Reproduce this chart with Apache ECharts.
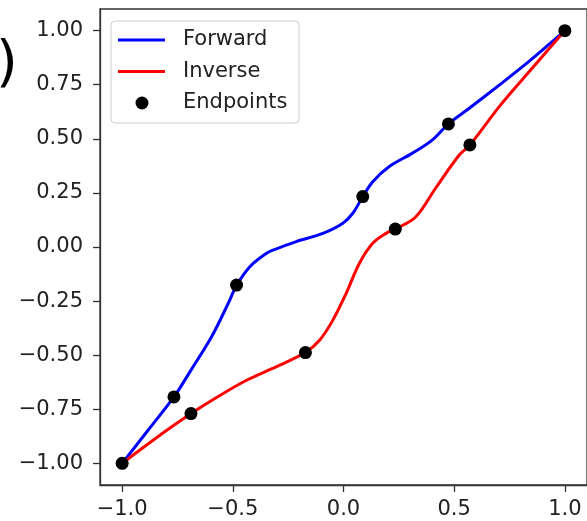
<!DOCTYPE html>
<html>
<head>
<meta charset="utf-8">
<script src="https://cdn.jsdelivr.net/npm/echarts@6/dist/echarts.min.js"></script>
<style>
html,body{margin:0;padding:0;background:#fff;}
#chart{width:587px;height:521px;}
</style>
</head>
<body>
<div id="chart"></div>
<script>
// Forward curve (blue)
const forwardX = [-1.0, -0.883, -0.766, -0.689, -0.596, -0.521, -0.482, -0.423, -0.348, -0.318, -0.213, -0.093, -0.003, 0.042, 0.087, 0.132, 0.207, 0.312, 0.402, 0.474, 0.568, 0.718, 0.838, 0.928, 1.0];
const forwardY = [-1.0, -0.847, -0.693, -0.569, -0.415, -0.261, -0.176, -0.091, -0.029, -0.014, 0.025, 0.063, 0.110, 0.156, 0.233, 0.302, 0.372, 0.434, 0.495, 0.569, 0.641, 0.760, 0.858, 0.936, 1.0];
// Inverse curve (red)
const inverseX = [-1.0, -0.851, -0.689, -0.581, -0.438, -0.288, -0.173, -0.108, -0.048, 0.012, 0.072, 0.132, 0.192, 0.234, 0.327, 0.418, 0.523, 0.571, 0.710, 0.860, 1.0];
const inverseY = [-1.0, -0.886, -0.770, -0.700, -0.616, -0.546, -0.488, -0.431, -0.338, -0.214, -0.075, 0.017, 0.063, 0.083, 0.140, 0.275, 0.425, 0.472, 0.657, 0.835, 1.0];
// Endpoints (black dots)
const endX = [-1.0, -0.766, -0.689, -0.483, -0.172, 0.087, 0.234, 0.474, 0.571, 1.0];
const endY = [-1.0, -0.693, -0.770, -0.176, -0.488, 0.233, 0.083, 0.569, 0.472, 1.0];
// Tick labels
const xTicks = [-1.0, -0.5, 0.0, 0.5, 1.0];
const yTicks = [-1.0, -0.75, -0.5, -0.25, 0.0, 0.25, 0.5, 0.75, 1.0];

const zip = (a, b) => a.map((v, i) => [v, b[i]]);
const fmt = (v, d) => v.toFixed(d).replace('-', '\u2212');
const FONT = 'DejaVu Sans';
const FS = 21;
const AX = '#333';
const TXT = '#222';

const chart = echarts.init(document.getElementById('chart'), null, {renderer: 'canvas'});
chart.setOption({
  animation: false,
  backgroundColor: '#fff',
  grid: {left: 100, top: 9, right: -1, bottom: 36, show: true, borderColor: AX, borderWidth: 1.3, backgroundColor: 'transparent'},
  xAxis: {
    type: 'value', min: -1.1, max: 1.1,
    axisLine: {show: true, onZero: false, lineStyle: {color: AX, width: 1.3}},
    axisTick: {show: true, inside: false, length: 7, customValues: xTicks, lineStyle: {color: AX, width: 1.3}},
    axisLabel: {customValues: xTicks, formatter: v => fmt(v, 1), margin: 14, color: TXT, fontFamily: FONT, fontSize: FS},
    splitLine: {show: false}
  },
  yAxis: {
    type: 'value', min: -1.1, max: 1.1,
    axisLine: {show: true, onZero: false, lineStyle: {color: AX, width: 1.3}},
    axisTick: {show: true, inside: false, length: 7, customValues: yTicks, lineStyle: {color: AX, width: 1.3}},
    axisLabel: {customValues: yTicks, formatter: v => fmt(v, 2), margin: 17, color: TXT, fontFamily: FONT, fontSize: FS},
    splitLine: {show: false}
  },
  legend: [
    {
      orient: 'vertical', left: 118, top: 29.5, padding: 0, itemGap: 10.5,
      itemWidth: 47, itemHeight: 3, icon: 'rect',
      textStyle: {fontFamily: FONT, fontSize: FS, color: TXT, padding: [0, 0, 0, 13]},
      data: ['Forward', 'Inverse'], z: 6
    },
    {
      orient: 'vertical', left: 135.5, top: 92.5, padding: 0,
      itemWidth: 13, itemHeight: 13, icon: 'circle',
      textStyle: {fontFamily: FONT, fontSize: FS, color: TXT, padding: [0, 0, 0, 29.5]},
      data: ['Endpoints'], z: 6
    }
  ],
  series: [
    {name: 'Forward', type: 'line', data: zip(forwardX, forwardY), smooth: 0.35, symbol: 'none', showSymbol: false,
     lineStyle: {color: '#0000ff', width: 3}, itemStyle: {color: '#0000ff'}, z: 2},
    {name: 'Inverse', type: 'line', data: zip(inverseX, inverseY), smooth: 0.35, symbol: 'none', showSymbol: false,
     lineStyle: {color: '#ff0000', width: 3}, itemStyle: {color: '#ff0000'}, z: 2},
    {name: 'Endpoints', type: 'scatter', data: zip(endX, endY), symbol: 'circle', symbolSize: 13,
     itemStyle: {color: '#000', opacity: 1}, z: 3}
  ],
  graphic: [
    {
      type: 'rect', z: 5, silent: true,
      shape: {x: 111, y: 21, width: 188, height: 102, r: 4},
      style: {fill: 'rgba(255,255,255,0.8)', stroke: '#ccc', lineWidth: 1}
    },
    {
      type: 'text', left: -4, top: 37, z: 5,
      style: {text: ')', font: '56px "DejaVu Sans"', fill: '#000'}
    }
  ]
});
</script>
</body>
</html>
